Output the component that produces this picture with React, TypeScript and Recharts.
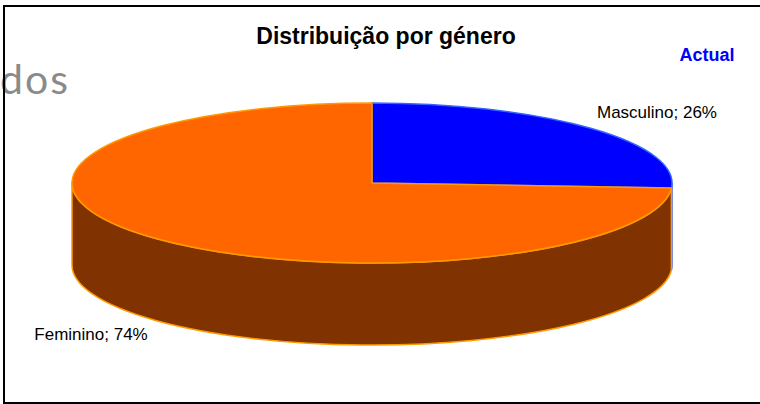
import { PieChart, Pie } from "recharts";

const categories = ["Masculino", "Feminino"];
const shares = [26, 74];
const topColors = ["#0000FF", "#FF6600"];
const sideColors = ["#000099", "#803300"];
const edgeColors = ["#3366FF", "#FF9900"];

const data = categories.map((name, i) => ({ name, value: shares[i] }));

const TILT = 80 / 300;
const DEPTH = 82;
const RAD = Math.PI / 180;

function pt(cx: number, cy: number, rx: number, ry: number, a: number, dy = 0) {
  return [cx + rx * Math.cos(a * RAD), cy - ry * Math.sin(a * RAD) + dy];
}

function TopSlice(props: any) {
  const { cx, cy, outerRadius, startAngle, endAngle, index } = props;
  const rx = outerRadius;
  const ry = outerRadius * TILT;
  const [x1, y1] = pt(cx, cy, rx, ry, startAngle);
  const [x2, y2] = pt(cx, cy, rx, ry, endAngle);
  const large = Math.abs(startAngle - endAngle) > 180 ? 1 : 0;
  const sweep = startAngle > endAngle ? 1 : 0;
  const d = `M${cx},${cy} L${x1},${y1} A${rx},${ry} 0 ${large} ${sweep} ${x2},${y2} Z`;
  return <path d={d} fill={topColors[index]} stroke={edgeColors[index]} strokeWidth={1.5} strokeLinejoin="round" />;
}

// only the front half of the rim is visible, so the wall is the slice clipped to 180..360 deg
function SideSlice(props: any) {
  const { cx, cy, outerRadius, startAngle, endAngle, index } = props;
  const rx = outerRadius;
  const ry = outerRadius * TILT;
  const lo = Math.min(startAngle, endAngle);
  const hi = Math.max(startAngle, endAngle);
  const parts: string[] = [];
  for (let k = -2; k <= 2; k++) {
    const a = Math.max(lo, -180 + 360 * k);
    const b = Math.min(hi, 360 * k);
    if (b - a <= 0.01) continue;
    const [bx, by] = pt(cx, cy, rx, ry, b);
    const [ax, ay] = pt(cx, cy, rx, ry, a);
    const large = b - a > 180 ? 1 : 0;
    parts.push(
      `M${bx},${by} A${rx},${ry} 0 ${large} 1 ${ax},${ay} L${ax},${ay + DEPTH} A${rx},${ry} 0 ${large} 0 ${bx},${by + DEPTH} Z`
    );
  }
  if (!parts.length) return <g />;
  return <path d={parts.join(" ")} fill={sideColors[index]} stroke={edgeColors[index]} strokeWidth={1.5} />;
}

function renderLabel(props: any) {
  const { cx, cy, outerRadius, midAngle, name, value } = props;
  const rx = outerRadius * 1.294;
  const ry = outerRadius * TILT * 1.2;
  const [x, yTop] = pt(cx, cy, rx, ry, midAngle);
  const front = Math.sin(midAngle * RAD) < 0;
  const y = front ? yTop + DEPTH + 4 : yTop - 5;
  return (
    <text x={x + 2} y={y} textAnchor="middle" dominantBaseline="central" fontSize={17} fill="#000" fontFamily="'Liberation Sans', Arial, sans-serif">
      {`${name}; ${value}%`}
    </text>
  );
}

export default function App() {
  return (
    <div style={{ position: "absolute", left: 0, top: 0, width: 760, height: 404, overflow: "hidden", background: "#fff" }}>
      <div style={{ position: "absolute", right: 690, top: 59, fontSize: 41, letterSpacing: 2, color: "#8a8a8a", fontFamily: "Lato, 'Open Sans', sans-serif", lineHeight: "40px" }}>
        dos
      </div>
      <div style={{ position: "absolute", left: 3, top: 5, width: 800, height: 395, border: "2px solid #000", borderRight: "none" }} />
      <div style={{ position: "absolute", left: 0, top: 0 }}>
        <PieChart width={760} height={404}>
          <Pie
            data={data}
            dataKey="value"
            nameKey="name"
            cx={367}
            cy={178}
            outerRadius={300}
            startAngle={90}
            endAngle={-270}
            shape={SideSlice}
            isAnimationActive={false}
            label={false}
          />
          <Pie
            data={data}
            dataKey="value"
            nameKey="name"
            cx={367}
            cy={178}
            outerRadius={300}
            startAngle={90}
            endAngle={-270}
            shape={TopSlice}
            isAnimationActive={false}
            label={renderLabel}
            labelLine={false}
          />
        </PieChart>
      </div>
      <div style={{ position: "absolute", left: 186, width: 400, top: 23, textAlign: "center", fontSize: 23, fontWeight: "bold", fontFamily: "'Liberation Sans', Arial, sans-serif" }}>
        Distribuição por género
      </div>
      <div style={{ position: "absolute", left: 657, width: 100, top: 45, textAlign: "center", fontSize: 18, fontWeight: "bold", color: "#0000FF", fontFamily: "'Liberation Sans', Arial, sans-serif" }}>
        Actual
      </div>
    </div>
  );
}
